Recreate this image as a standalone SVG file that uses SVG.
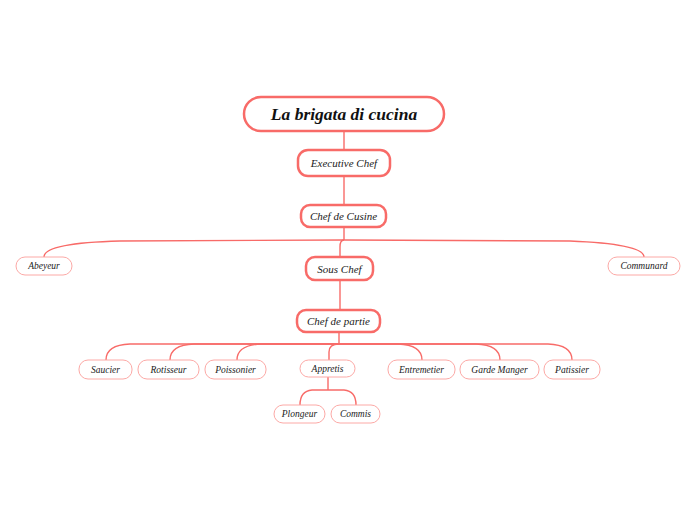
<svg xmlns="http://www.w3.org/2000/svg" width="696" height="520" viewBox="0 0 696 520">
<style>
.bg{fill:#ffffff}
.main{fill:#ffffff;stroke:#f86b68;stroke-width:2.5}
.sub{fill:#ffffff;stroke:#fca9a6;stroke-width:1}
.link{fill:none;stroke:#f86b68;stroke-width:1.4}
text{font-family:"Liberation Serif","DejaVu Serif",serif;font-style:italic;fill:#222222;text-anchor:middle;dominant-baseline:central}
.t0{font-size:17.5px;font-weight:bold;fill:#111111}
.t1{font-size:11px}
.t2{font-size:9.5px}
</style>
<rect class="bg" x="0" y="0" width="696" height="520"/>
<g id="connectors">
<path class="link" d="M344,131 V240"/>
<path class="link" d="M344,240 L120,241 Q44,243 44,257"/>
<path class="link" d="M344,240 L570,241 Q644,244 644,257"/>
<path class="link" d="M344,240 Q340,240 340,247 V257"/>
<path class="link" d="M340,280 V310"/>
<path class="link" d="M339,332 V344"/>
<path class="link" d="M339,344 L130,344 Q106,345 106,360"/>
<path class="link" d="M339,344 L194,344 Q170,345 170,360"/>
<path class="link" d="M339,344 L261,344 Q237,345 237,360"/>
<path class="link" d="M339,344 Q329,344 329,352 V360"/>
<path class="link" d="M339,344 L398,344 Q422,345 422,360"/>
<path class="link" d="M339,344 L476,344 Q500,345 500,360"/>
<path class="link" d="M339,344 L548,344 Q572,345 572,360"/>
<path class="link" d="M328,377 V390"/>
<path class="link" d="M328,390 L312,390 Q300,391 300,405"/>
<path class="link" d="M328,390 L344,390 Q356,391 356,405"/>
</g>
<g id="title"><rect class="main" x="244" y="97" width="200" height="34" rx="17"/><text class="t0" x="344" y="114">La brigata di cucina</text></g>
<g id="executive-chef"><rect class="main" x="298" y="150" width="92" height="26" rx="10"/><text class="t1" x="344" y="163">Executive Chef</text></g>
<g id="chef-de-cusine"><rect class="main" x="301" y="205" width="85" height="22" rx="9"/><text class="t1" x="343.5" y="216">Chef de Cusine</text></g>
<g id="sous-chef"><rect class="main" x="306" y="257" width="67" height="23" rx="9"/><text class="t1" x="339.5" y="268.5">Sous Chef</text></g>
<g id="chef-de-partie"><rect class="main" x="297" y="310" width="83" height="22" rx="9"/><text class="t1" x="338.5" y="321">Chef de partie</text></g>
<g id="abeyeur"><rect class="sub" x="16" y="257" width="56" height="18" rx="9"/><text class="t2" x="44" y="266">Abeyeur</text></g>
<g id="communard"><rect class="sub" x="608" y="257" width="72" height="18" rx="9"/><text class="t2" x="644" y="266">Communard</text></g>
<g id="saucier"><rect class="sub" x="79" y="360" width="53" height="19" rx="9"/><text class="t2" x="105.5" y="369.5">Saucier</text></g>
<g id="rotisseur"><rect class="sub" x="138" y="360" width="61" height="19" rx="9"/><text class="t2" x="168.5" y="369.5">Rotisseur</text></g>
<g id="poissonier"><rect class="sub" x="205" y="360" width="61" height="19" rx="9"/><text class="t2" x="235.5" y="369.5">Poissonier</text></g>
<g id="appretis"><rect class="sub" x="300" y="360" width="55" height="17" rx="8.5"/><text class="t2" x="327.5" y="368.5">Appretis</text></g>
<g id="entremetier"><rect class="sub" x="388" y="360" width="67" height="19" rx="9"/><text class="t2" x="421.5" y="369.5">Entremetier</text></g>
<g id="garde-manger"><rect class="sub" x="460" y="360" width="79" height="19" rx="9"/><text class="t2" x="499.5" y="369.5">Garde Manger</text></g>
<g id="patissier"><rect class="sub" x="544" y="360" width="56" height="19" rx="9"/><text class="t2" x="572" y="369.5">Patissier</text></g>
<g id="plongeur"><rect class="sub" x="274" y="405" width="51" height="18" rx="9"/><text class="t2" x="299.5" y="414">Plongeur</text></g>
<g id="commis"><rect class="sub" x="331" y="405" width="49" height="18" rx="9"/><text class="t2" x="355.5" y="414">Commis</text></g>
</svg>
